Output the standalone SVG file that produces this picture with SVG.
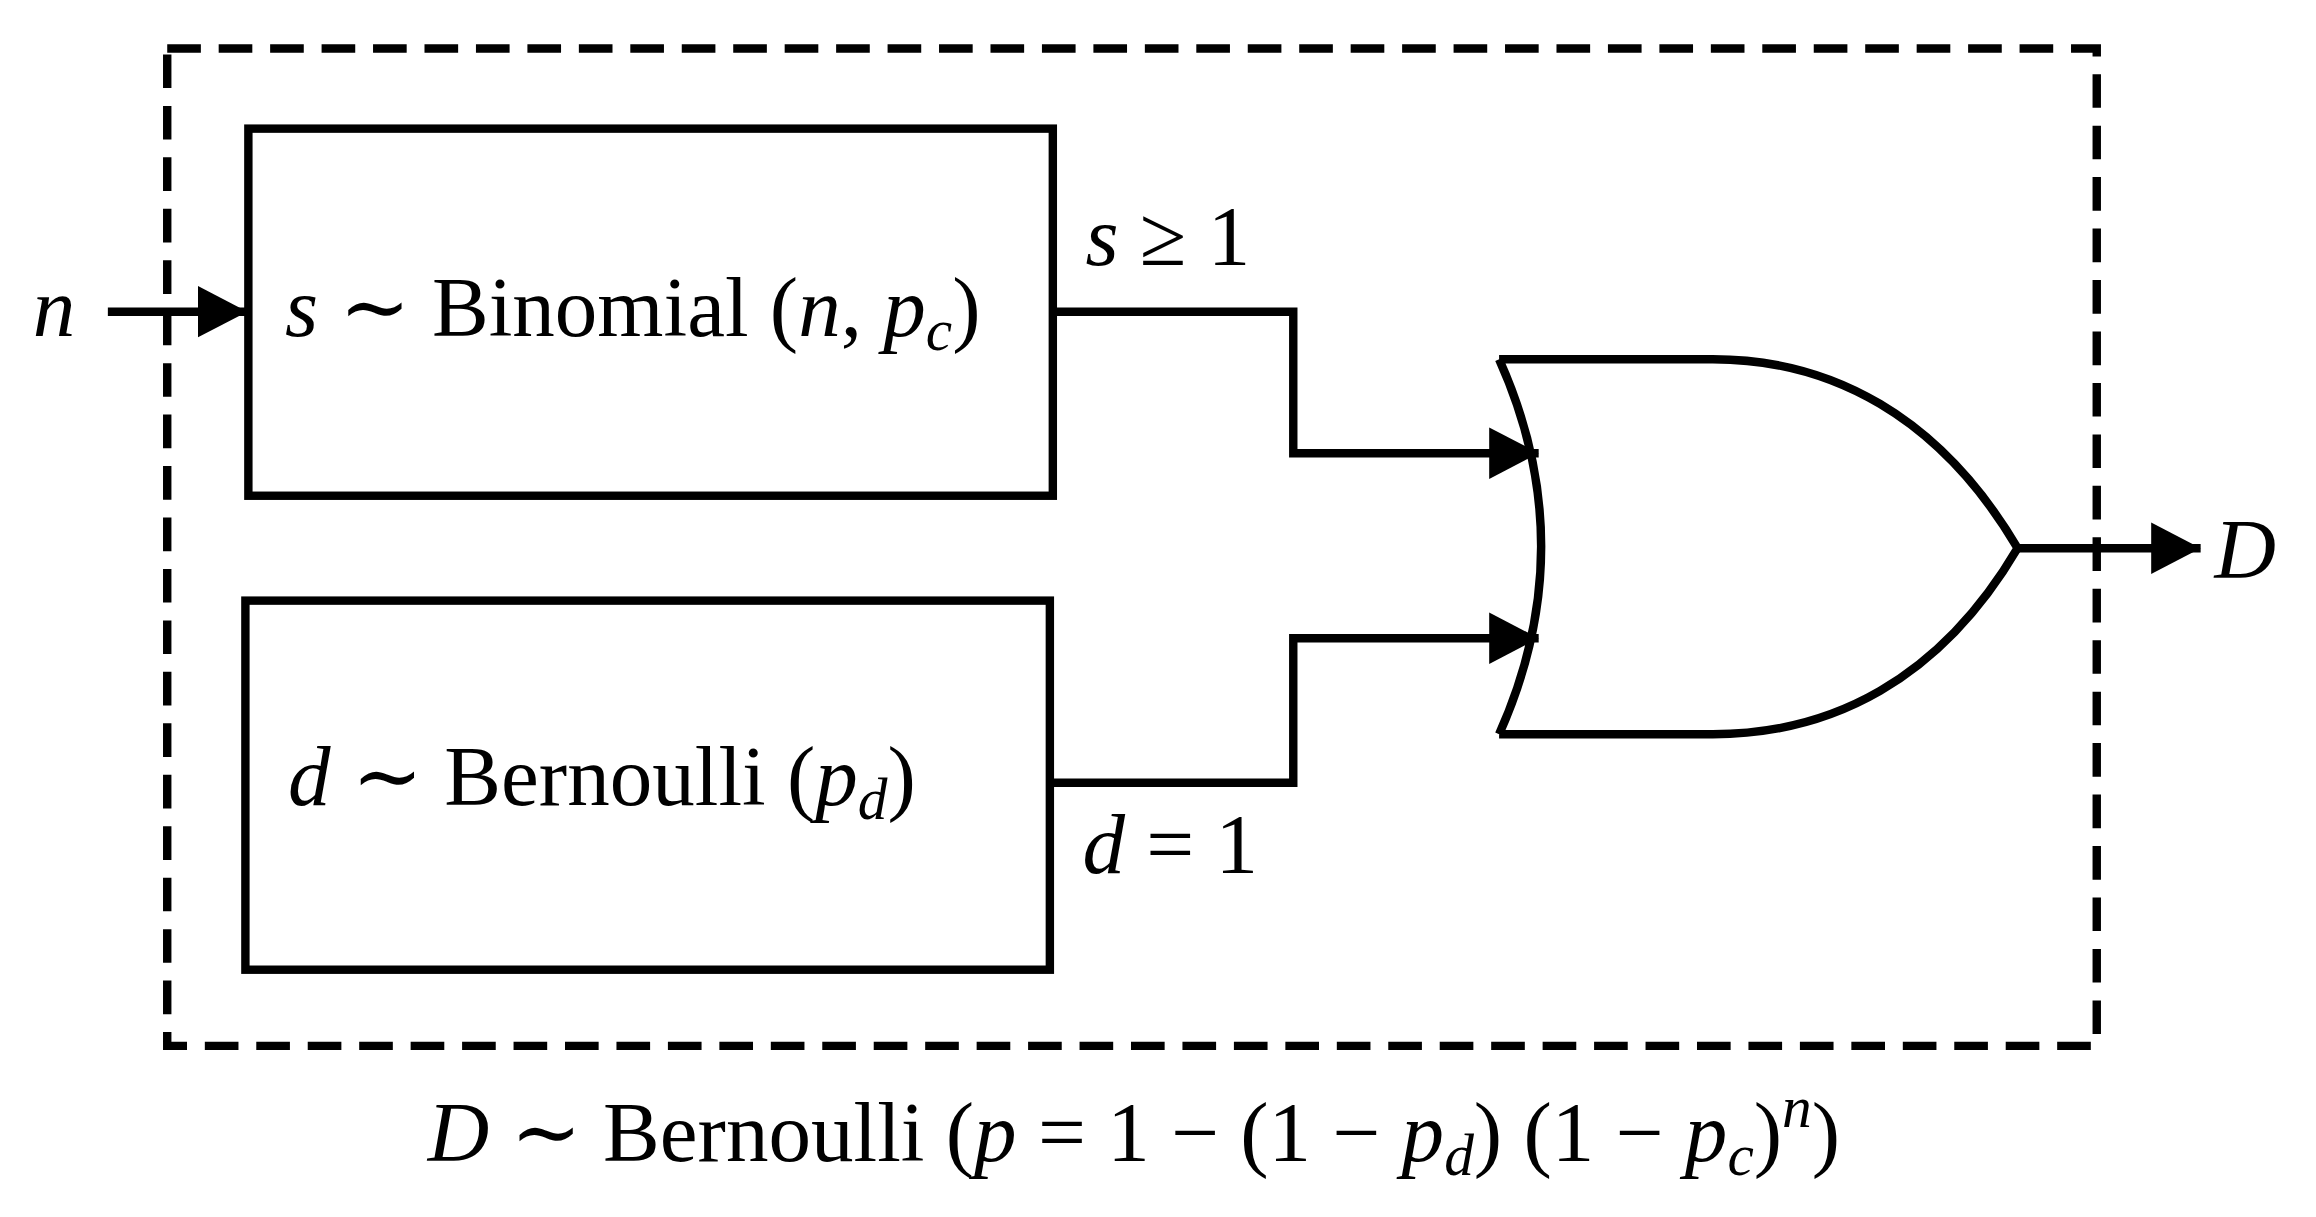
<svg xmlns="http://www.w3.org/2000/svg" width="2316" height="1217" viewBox="0 0 2316 1217">
<style>
.s{fill:none;stroke:#000;stroke-width:8.5}
text{font-family:"Liberation Serif","DejaVu Serif",serif;font-size:86px;fill:#000}
.i{font-style:italic}
</style>
<defs>
<marker id="a" markerUnits="userSpaceOnUse" markerWidth="56" markerHeight="56" refX="50" refY="28" orient="auto"><path d="M0,2 L50,28 L0,54 Z" fill="#000"/></marker>
</defs>
<g transform="scale(0.9895)">
<g id="frame"><rect x="169" y="49" width="1950" height="1008" class="s" stroke-dasharray="34,18"/></g>
<g id="binomial"><rect x="251" y="130" width="813" height="371" class="s"/>
<text x="288" y="340"><tspan class="i">s</tspan> ∼ Binomial (<tspan class="i">n</tspan>, <tspan class="i">p</tspan><tspan class="i" font-size="60" dy="14">c</tspan><tspan dy="-14">)</tspan></text></g>
<g id="bernoulli"><rect x="248" y="607" width="813" height="373" class="s"/>
<text x="291" y="814"><tspan class="i">d</tspan> ∼ Bernoulli (<tspan class="i">p</tspan><tspan class="i" font-size="60" dy="14">d</tspan><tspan dy="-14">)</tspan></text></g>
<g id="or"><path class="s" d="M1515,363 Q1600,552 1515,742 M1515,363 L1731,363 C1850,363 1960,420 2039,554 C1960,688 1850,742 1731,742 L1515,742" stroke-linejoin="round"/></g>
<g id="connectors">
<path class="s" d="M109,315 L250,315" marker-end="url(#a)"/>
<path class="s" d="M1064,315 L1307,315 L1307,458 L1555,458" marker-end="url(#a)"/>
<path class="s" d="M1061,791 L1307,791 L1307,645 L1555,645" marker-end="url(#a)"/>
<path class="s" d="M2039,554 L2224,554" marker-end="url(#a)"/>
</g>
<g id="labels">
<text x="33" y="340" class="i">n</text>
<text x="1097" y="268"><tspan class="i">s</tspan> ≥ 1</text>
<text x="1094" y="882"><tspan class="i">d</tspan> = 1</text>
<text x="2238" y="584" class="i">D</text>
<text x="1146" y="1173" text-anchor="middle"><tspan class="i">D</tspan> ∼ Bernoulli (<tspan class="i">p</tspan> = 1 − (1 − <tspan class="i">p</tspan><tspan class="i" font-size="60" dy="14">d</tspan><tspan dy="-14">) (1 − </tspan><tspan class="i">p</tspan><tspan class="i" font-size="60" dy="14">c</tspan><tspan dy="-14">)</tspan><tspan class="i" font-size="60" dy="-34">n</tspan><tspan dy="34">)</tspan></text>
</g>
</g>
</svg>
